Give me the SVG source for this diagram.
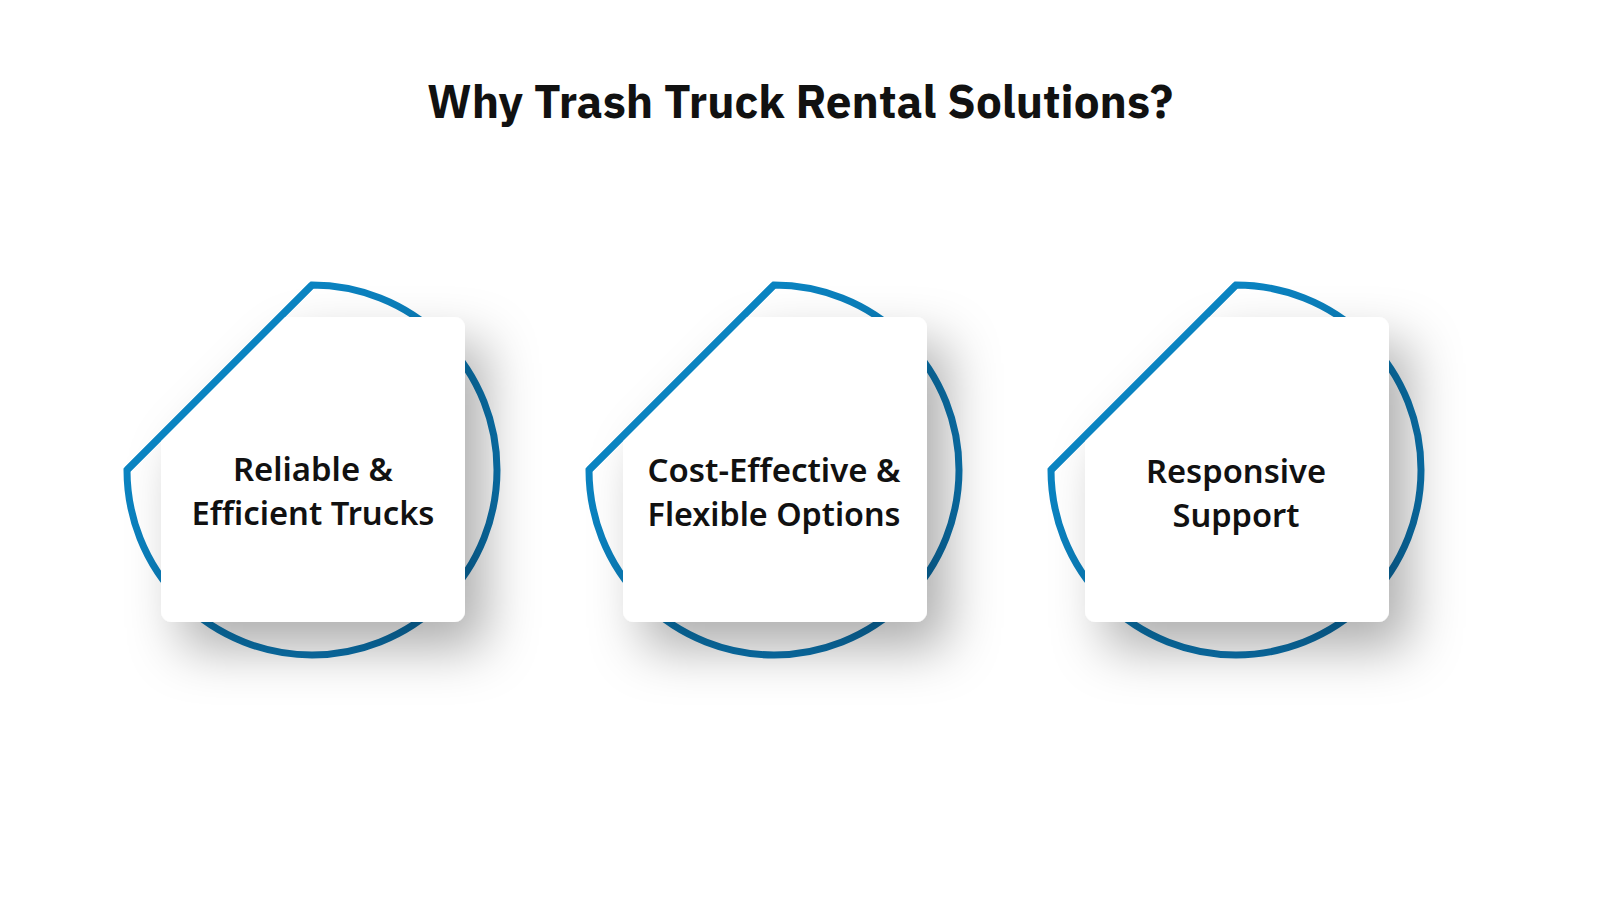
<svg xmlns="http://www.w3.org/2000/svg" width="1600" height="900" viewBox="0 0 1600 900">
  <style>
    .title { font-family: "IBM Plex Sans", "Noto Sans", "Open Sans", sans-serif; font-weight: 700; font-size: 46px; fill: #111111; }
    .label { font-family: "Noto Sans", "Open Sans", sans-serif; font-weight: 600; font-size: 32.5px; fill: #111111; }
    .ring { fill: none; stroke: url(#g1); stroke-width: 7; stroke-linejoin: miter; stroke-linecap: butt; }
    .card { fill: #ffffff; filter: url(#shadow); }
  </style>
  <defs>
    <linearGradient id="g1" gradientUnits="userSpaceOnUse" x1="127" y1="285" x2="497" y2="655">
      <stop offset="0" stop-color="#0a8ccb"/>
      <stop offset="1" stop-color="#0a6aa3"/>
    </linearGradient>
    <filter id="shadow" x="-60%" y="-60%" width="220%" height="220%">
      <feDropShadow dx="20" dy="26" stdDeviation="26" flood-color="#000000" flood-opacity="0.32"/>
    </filter>
    <path id="ringShape" d="M312,285 A185,185 0 1 1 127,470 L312,285 Z"/>
    <path id="cardShape" d="M280,317 L454,317 A11,11 0 0 1 465,328 L465,611 A11,11 0 0 1 454,622 L172,622 A11,11 0 0 1 161,611 L161,436 Z"/>
    <path id="diag" d="M127,470 L312,285"/>
  </defs>
  <rect width="1600" height="900" fill="#ffffff"/>
  <text class="title" x="800" y="118" text-anchor="middle" textLength="746" lengthAdjust="spacingAndGlyphs">Why Trash Truck Rental Solutions?</text>

  <g id="node1">
    <use href="#ringShape" class="ring"/>
    <use href="#cardShape" class="card"/>
    <use href="#diag" class="ring"/>
    <text class="label" x="313" y="481" text-anchor="middle" textLength="160" lengthAdjust="spacingAndGlyphs">Reliable &amp;</text>
    <text class="label" x="313" y="525" text-anchor="middle" textLength="243" lengthAdjust="spacingAndGlyphs">Efficient Trucks</text>
  </g>

  <g id="node2">
    <g transform="translate(462,0)">
      <use href="#ringShape" class="ring"/>
      <use href="#cardShape" class="card"/>
      <use href="#diag" class="ring"/>
    </g>
    <text class="label" x="774" y="482" text-anchor="middle" textLength="253" lengthAdjust="spacingAndGlyphs">Cost-Effective &amp;</text>
    <text class="label" x="774" y="526" text-anchor="middle" textLength="253" lengthAdjust="spacingAndGlyphs">Flexible Options</text>
  </g>

  <g id="node3">
    <g transform="translate(924,0)">
      <use href="#ringShape" class="ring"/>
      <use href="#cardShape" class="card"/>
      <use href="#diag" class="ring"/>
    </g>
    <text class="label" x="1236" y="483" text-anchor="middle" textLength="180" lengthAdjust="spacingAndGlyphs">Responsive</text>
    <text class="label" x="1236" y="527" text-anchor="middle" textLength="127" lengthAdjust="spacingAndGlyphs">Support</text>
  </g>

  <g id="connectors"/>
</svg>
